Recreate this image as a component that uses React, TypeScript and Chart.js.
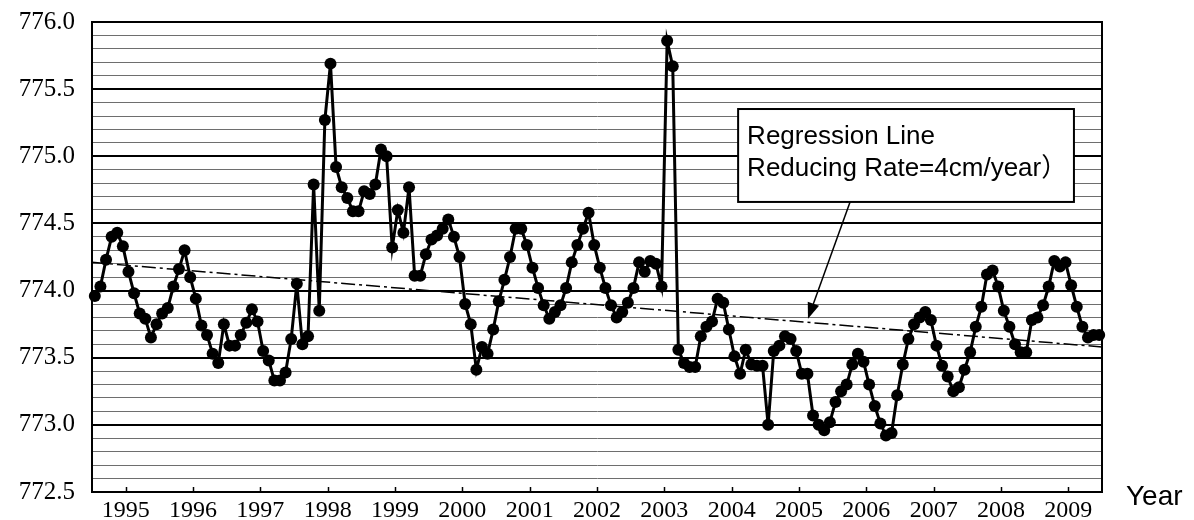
import { useEffect, useRef } from 'react';
import { Chart, registerables } from 'chart.js';

Chart.register(...registerables);

// Monthly water level (m), July 1994 – June 2009
const levels1994 = [773.96, 774.03, 774.23, 774.40, 774.43, 774.33]; // Jul–Dec
const levels1995 = [774.14, 773.98, 773.83, 773.79, 773.65, 773.75, 773.83, 773.87, 774.03, 774.16, 774.30, 774.10];
const levels1996 = [773.94, 773.74, 773.67, 773.53, 773.46, 773.75, 773.59, 773.59, 773.67, 773.76, 773.86, 773.77];
const levels1997 = [773.55, 773.48, 773.33, 773.33, 773.39, 773.64, 774.05, 773.60, 773.66, 774.79, 773.85, 775.27];
const levels1998 = [775.69, 774.92, 774.77, 774.69, 774.59, 774.59, 774.74, 774.72, 774.79, 775.05, 775.00, 774.32];
const levels1999 = [774.60, 774.43, 774.77, 774.11, 774.11, 774.27, 774.38, 774.41, 774.46, 774.53, 774.40, 774.25];
const levels2000 = [773.90, 773.75, 773.41, 773.58, 773.53, 773.71, 773.92, 774.08, 774.25, 774.46, 774.46, 774.34];
const levels2001 = [774.17, 774.02, 773.89, 773.79, 773.84, 773.89, 774.02, 774.21, 774.34, 774.46, 774.58, 774.34];
const levels2002 = [774.17, 774.02, 773.89, 773.80, 773.84, 773.91, 774.02, 774.21, 774.14, 774.22, 774.20, 774.03];
const levels2003 = [775.86, 775.67, 773.56, 773.46, 773.43, 773.43, 773.66, 773.73, 773.77, 773.94, 773.91, 773.71];
const levels2004 = [773.51, 773.38, 773.56, 773.45, 773.44, 773.44, 773.00, 773.55, 773.59, 773.66, 773.64, 773.55];
const levels2005 = [773.38, 773.38, 773.07, 773.00, 772.96, 773.02, 773.17, 773.25, 773.30, 773.45, 773.53, 773.47];
const levels2006 = [773.30, 773.14, 773.01, 772.92, 772.94, 773.22, 773.45, 773.64, 773.75, 773.80, 773.84, 773.78];
const levels2007 = [773.59, 773.44, 773.36, 773.25, 773.28, 773.41, 773.54, 773.73, 773.88, 774.12, 774.15, 774.03];
const levels2008 = [773.85, 773.73, 773.60, 773.54, 773.54, 773.78, 773.80, 773.89, 774.03, 774.22, 774.18, 774.21];
const levels2009 = [774.04, 773.88, 773.73, 773.65, 773.67, 773.67]; // Jan–Jun

const levels = [
  ...levels1994, ...levels1995, ...levels1996, ...levels1997, ...levels1998,
  ...levels1999, ...levels2000, ...levels2001, ...levels2002, ...levels2003,
  ...levels2004, ...levels2005, ...levels2006, ...levels2007, ...levels2008, ...levels2009,
];

// Regression line end values (start of record, end of record)
const regressionStart = 774.21;
const regressionEnd = 773.58;

const yearLabels = ['1995', '1996', '1997', '1998', '1999', '2000', '2001', '2002', '2003', '2004', '2005', '2006', '2007', '2008', '2009'];
const monthsBeforeFirstJanuary = levels1994.length;
const yearTickValues = yearLabels.map((_, k) => monthsBeforeFirstJanuary + 12 * k);

const yMin = 772.5;
const yMax = 776.0;
const yStep = 0.1;
const yTickValues = Array.from({ length: Math.round((yMax - yMin) / yStep) + 1 }, (_, k) => Math.round((yMin + k * yStep) * 10) / 10);

const boxText = ['Regression Line', 'Reducing Rate=4cm/year）'];
const axisTitle = 'Year';

const isMajor = (v: number | undefined) => v !== undefined && Math.round(v * 10) % 5 === 0;

const overlay = {
  id: 'overlay',
  beforeDatasetsDraw(chart: any) {
    const { ctx, chartArea, scales } = chart;
    const xs = scales.x;
    ctx.save();
    ctx.strokeStyle = '#000';
    ctx.lineWidth = 1.5;
    yearTickValues.forEach((v) => {
      const px = Math.round(xs.getPixelForValue(v)) + 0.5;
      ctx.beginPath();
      ctx.moveTo(px, chartArea.bottom);
      ctx.lineTo(px, chartArea.bottom - 5);
      ctx.stroke();
    });
    ctx.lineWidth = 2;
    ctx.strokeRect(chartArea.left, chartArea.top, chartArea.right - chartArea.left, chartArea.bottom - chartArea.top);
    ctx.restore();
  },
  afterDraw(chart: any) {
    const { ctx, scales } = chart;
    const xs = scales.x;
    const ys = scales.y;
    ctx.save();
    // annotation box
    const bx1 = xs.getPixelForValue(115.15);
    const bx2 = xs.getPixelForValue(175.0);
    const by1 = ys.getPixelForValue(775.352);
    const by2 = ys.getPixelForValue(774.66);
    ctx.fillStyle = '#fff';
    ctx.fillRect(bx1, by1, bx2 - bx1, by2 - by1);
    ctx.strokeStyle = '#000';
    ctx.lineWidth = 2;
    ctx.strokeRect(bx1, by1, bx2 - bx1, by2 - by1);
    ctx.fillStyle = '#000';
    ctx.font = '26px "Liberation Sans", Arial, "Noto Sans CJK JP", sans-serif';
    ctx.textAlign = 'left';
    ctx.textBaseline = 'alphabetic';
    ctx.fillText(boxText[0], bx1 + 9, by1 + 35);
    ctx.fillText(boxText[1], bx1 + 9, by1 + 67);
    // arrow
    const ax1 = xs.getPixelForValue(135.1);
    const ay1 = by2;
    const ax2 = xs.getPixelForValue(127.6);
    const ay2 = ys.getPixelForValue(773.79);
    const ang = Math.atan2(ay2 - ay1, ax2 - ax1);
    const headLen = 16;
    const headHalf = 6;
    ctx.lineWidth = 1.5;
    ctx.beginPath();
    ctx.moveTo(ax1, ay1);
    ctx.lineTo(ax2 - Math.cos(ang) * headLen * 0.8, ay2 - Math.sin(ang) * headLen * 0.8);
    ctx.stroke();
    ctx.beginPath();
    ctx.moveTo(ax2, ay2);
    ctx.lineTo(ax2 - Math.cos(ang) * headLen + Math.sin(ang) * headHalf, ay2 - Math.sin(ang) * headLen - Math.cos(ang) * headHalf);
    ctx.lineTo(ax2 - Math.cos(ang) * headLen - Math.sin(ang) * headHalf, ay2 - Math.sin(ang) * headLen + Math.cos(ang) * headHalf);
    ctx.closePath();
    ctx.fill();
    // axis title
    ctx.font = '28px "Liberation Sans", Arial, sans-serif';
    ctx.fillText(axisTitle, chart.chartArea.right + 24, 505);
    ctx.restore();
  },
};

export default function App() {
  const ref = useRef<HTMLCanvasElement>(null);
  useEffect(() => {
    const chart = new Chart(ref.current as HTMLCanvasElement, {
      type: 'line',
      data: {
        datasets: [
          {
            data: levels.map((v, i) => ({ x: i + 0.5, y: v })),
            borderColor: '#000',
            backgroundColor: '#000',
            borderWidth: 3,
            pointRadius: 6,
            pointBackgroundColor: '#000',
            pointBorderWidth: 0,
            tension: 0,
            clip: false as any,
            order: 0,
          },
          {
            data: [
              { x: 0, y: regressionStart },
              { x: levels.length, y: regressionEnd },
            ],
            borderColor: '#000',
            borderWidth: 1.5,
            borderDash: [14, 4, 3, 4],
            pointRadius: 0,
            tension: 0,
            order: 1,
          },
        ],
      },
      options: {
        responsive: false,
        animation: false,
        devicePixelRatio: 1,
        layout: { padding: { left: 0, right: 92, top: 22, bottom: 0 } },
        plugins: { legend: { display: false }, tooltip: { enabled: false } },
        scales: {
          x: {
            type: 'linear',
            min: 0,
            max: levels.length,
            afterBuildTicks: (s: any) => {
              s.ticks = yearTickValues.map((v) => ({ value: v }));
            },
            afterFit: (s: any) => {
              s.height = 28;
              s.paddingLeft = 0;
              s.paddingRight = 0;
            },
            grid: { display: false, drawTicks: false },
            border: { display: true, color: '#000', width: 2 },
            ticks: {
              autoSkip: false,
              maxRotation: 0,
              color: '#000',
              padding: 4,
              font: { family: '"Liberation Serif", "Times New Roman", serif', size: 24 },
              callback: (v: any) => {
                const k = yearTickValues.indexOf(Number(v));
                return k >= 0 ? yearLabels[k] : '';
              },
            },
          },
          y: {
            type: 'linear',
            min: yMin,
            max: yMax,
            afterBuildTicks: (s: any) => {
              s.ticks = yTickValues.map((v) => ({ value: v }));
            },
            afterFit: (s: any) => {
              s.width = 92;
              s.paddingTop = 0;
              s.paddingBottom = 0;
            },
            grid: {
              drawTicks: false,
              color: (c: any) => (isMajor(c.tick?.value) ? '#000' : '#6e6e6e'),
              lineWidth: (c: any) => (isMajor(c.tick?.value) ? 2 : 1),
            },
            border: { display: true, color: '#000', width: 2 },
            ticks: {
              autoSkip: false,
              color: '#000',
              padding: 17,
              font: { family: '"Liberation Serif", "Times New Roman", serif', size: 25 },
              callback: (v: any) => (isMajor(Number(v)) ? Number(v).toFixed(1) : ''),
            },
          },
        },
      },
      plugins: [overlay],
    } as any);
    return () => chart.destroy();
  }, []);

  return (
    <div style={{ position: 'absolute', left: 0, top: 0, width: 1194, height: 520, background: '#fff' }}>
      <canvas ref={ref} width={1194} height={520} style={{ display: 'block' }} />
    </div>
  );
}
